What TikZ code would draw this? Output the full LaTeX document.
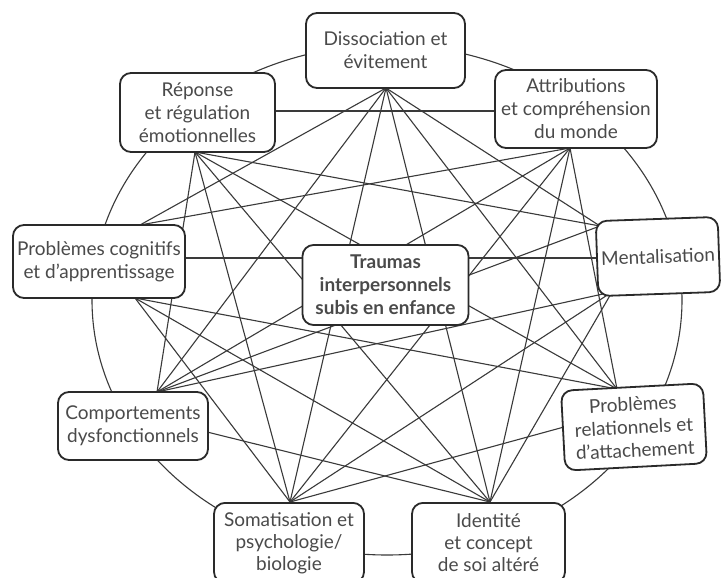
\documentclass[tikz,border=0pt]{standalone}
\usepackage{fontspec}
\setmainfont{Lato}
\definecolor{boxc}{HTML}{2A2A2A}
\definecolor{linec}{HTML}{3A3A3A}
\definecolor{txt}{HTML}{4A4A4A}
\begin{document}
\begin{tikzpicture}[x=1pt,y=-1pt,
  box/.style={draw=boxc, line width=1.8pt, rounded corners=11pt, fill=white, align=center, text=txt, inner sep=2pt, font=\fontsize{19}{23}\selectfont},
  link/.style={draw=linec, line width=1.1pt}]
\useasboundingbox (0,0) rectangle (721,578);
\fill[white] (0,0) rectangle (721,578);
\clip (0,0) rectangle (721,578);
\draw[link] (387,300) ellipse [x radius=295pt, y radius=255pt];
% fan points
\coordinate (Db) at (386,88);
\coordinate (Rb) at (195,152);
\coordinate (Rr) at (276,111);
\coordinate (Ab) at (570,148);
\coordinate (Al) at (496,111);
\coordinate (Ct) at (140,225);
\coordinate (Cb) at (135,298);
\coordinate (Cr) at (184,258);
\coordinate (Mt) at (600,226);
\coordinate (Ml) at (598,258);
\coordinate (Mb) at (612,292);
\coordinate (Kt) at (157,392);
\coordinate (Kr) at (207,432);
\coordinate (Pt) at (617,389);
\coordinate (Pl) at (564,427);
\coordinate (St) at (290,502);
\coordinate (It) at (490,502);
% links
\draw[link] (Db) -- (Mt);
\draw[link] (Db) -- (Pt);
\draw[link] (Db) -- (It);
\draw[link] (Db) -- (St);
\draw[link] (Db) -- (Kt);
\draw[link] (Db) -- (Ct);
\draw[link] (Ab) -- (Pt);
\draw[link] (Ab) -- (It);
\draw[link] (Ab) -- (St);
\draw[link] (Ab) -- (Kt);
\draw[link] (Ab) -- (Ct);
\draw[link] (Al) -- (Rr);
\draw[link] (Mb) -- (It);
\draw[link] (Mb) -- (St);
\draw[link] (Mb) -- (Kt);
\draw[link] (Ml) -- (Cr);
\draw[link] (Mt) -- (Rb);
\draw[link] (Mt) -- (Kt);
\draw[link] (Pl) -- (St);
\draw[link] (Pt) -- (Cb);
\draw[link] (Pt) -- (Rb);
\draw[link] (Kr) -- (It);
\draw[link] (Cb) -- (It);
\draw[link] (Rb) -- (It);
\draw[link] (Cb) -- (St);
\draw[link] (Rb) -- (St);
\draw[link] (Rb) -- (Kt);
% boxes
\node[box, minimum width=159pt, minimum height=75pt] (D) at (385.5,50.5) {Dissociation et\\évitement};
\node[box, minimum width=155pt, minimum height=79pt] (R) at (197.5,112.5) {Réponse\\et régulation\\émotionnelles};
\node[box, minimum width=162pt, minimum height=78pt] (A) at (576,109) {Attributions\\et compréhension\\du monde};
\node[box, minimum width=172pt, minimum height=73pt] (C) at (99,261.5) {Problèmes cognitifs\\et d’apprentissage};
\node[box, minimum width=122pt, minimum height=75pt, rotate=2] (M) at (658,256.5) {Mentalisation};
\node[box, minimum width=166pt, minimum height=80pt, font=\bfseries\fontsize{19}{23}\selectfont] (T) at (385.5,285) {Traumas\\interpersonnels\\subis en enfance};
\node[box, minimum width=150pt, minimum height=68pt] (K) at (133,426) {Comportements\\dysfonctionnels};
\node[box, minimum width=142pt, minimum height=80pt, rotate=3] (P) at (634,427) {Problèmes\\relationnels et\\d’attachement};
\node[box, minimum width=150pt, minimum height=80pt, anchor=north, font=\fontsize{19}{22}\selectfont] (S) at (289,502) {Somatisation et\\psychologie/\\biologie};
\node[box, minimum width=153pt, minimum height=80pt, anchor=north, font=\fontsize{19}{22}\selectfont] (I) at (488.5,502) {Identité\\et concept\\de soi altéré};
\end{tikzpicture}
\end{document}
